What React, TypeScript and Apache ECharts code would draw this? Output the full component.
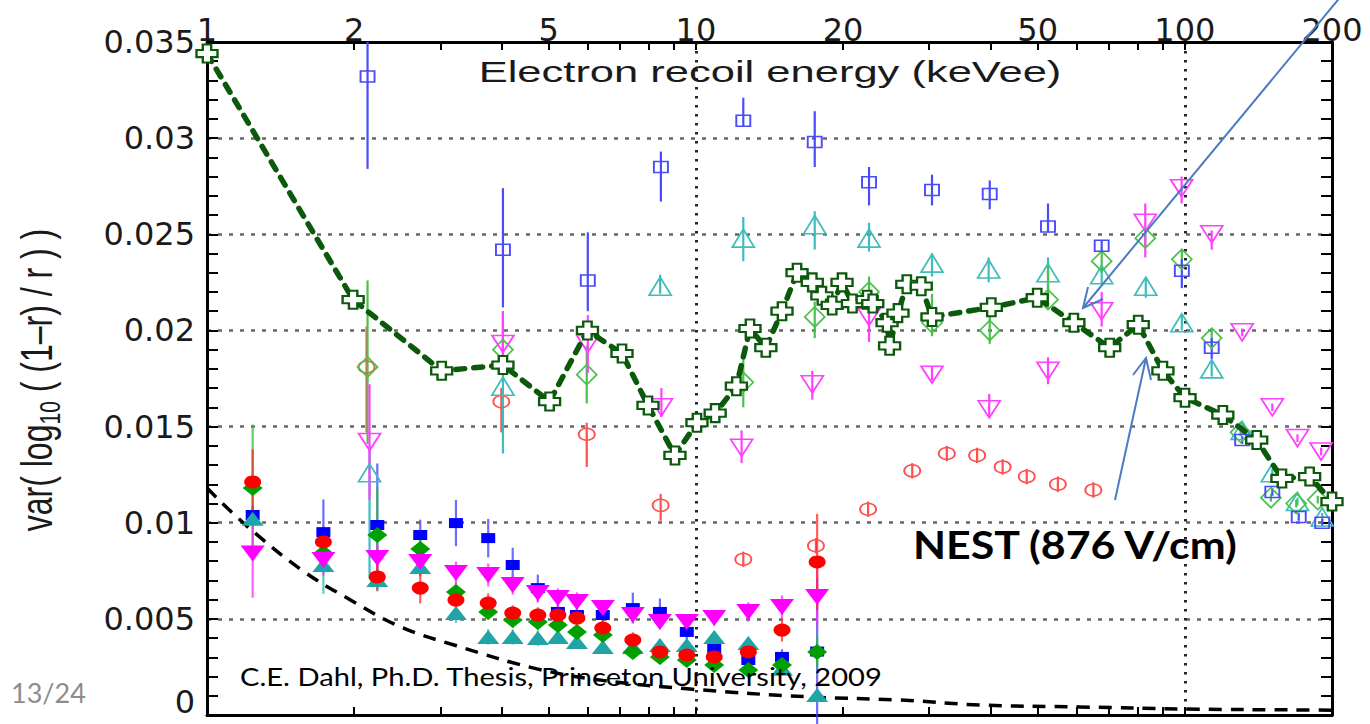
import React, { useEffect, useRef } from "react";
import * as echarts from "echarts";

// ---------- axes ----------
const X_MIN = 1;
const X_MAX = 200;
const Y_MIN = 0;
const Y_MAX = 0.035;
const Y_STEP = 0.005;
const xLabelValues = [1, 2, 5, 10, 20, 50, 100, 200];
const xTickValues = [2, 3, 4, 5, 6, 7, 8, 9, 10, 20, 30, 40, 50, 60, 70, 80, 90, 100, 200];

// ---------- low-energy data set (filled markers) ----------
const lowE = [1.24, 1.73, 2.23, 2.73, 3.23, 3.76, 4.22, 4.75, 5.22, 5.71, 6.45, 7.43, 8.44, 9.58, 10.9, 12.8, 15.0, 17.7];
const blueFilled = [0.0104, 0.00951, 0.00988, 0.00936, 0.00998, 0.0092, 0.0078, 0.0066, 0.00536, 0.0052, 0.0052, 0.00556, 0.00536, 0.00432, 0.00348, 0.00286, 0.00302, 0.0033];
const blueFilledErr = [0.0005, 0.0017, 0.0032, 0.0008, 0.0012, 0.001, 0.0009, 0.0007, 0.0006, 0.0005, 0.0006, 0.0008, 0.0007, 0.0004, 0.0004, 0.0004, 0.0004, 0.0038];
const cyanFilled = [0.0102, 0.0078, 0.00702, 0.0077, 0.0053, 0.00406, 0.00406, 0.004, 0.00406, 0.0038, 0.00354, 0.00354, 0.00364, 0.00364, 0.00406, 0.00374, 0.0024, 0.00104];
const cyanFilledErr = [0.0004, 0.0015, 0.0006, 0.0005, 0.0005, 0.0004, 0.0004, 0.0004, 0.0003, 0.0003, 0.0003, 0.0003, 0.0003, 0.0003, 0.0003, 0.0003, 0.0003, 0.0003];
const greenFilled = [0.0118, 0.00842, 0.00936, 0.00863, 0.0064, 0.00536, 0.00494, 0.00484, 0.00468, 0.00432, 0.00416, 0.00328, 0.00302, 0.00286, 0.0026, 0.00234, 0.0026, 0.00328];
const greenFilledErr = [0.0033, 0.0006, 0.0025, 0.0006, 0.0005, 0.0004, 0.0004, 0.0004, 0.0004, 0.0004, 0.0004, 0.0003, 0.0003, 0.0003, 0.0003, 0.0003, 0.0003, 0.0008];
const magentaFilled = [0.0084, 0.00806, 0.00816, 0.00796, 0.00738, 0.00728, 0.00676, 0.00634, 0.00608, 0.00588, 0.00556, 0.0052, 0.00484, 0.00484, 0.00504, 0.00536, 0.00562, 0.00614];
const magentaFilledErr = [0.0023, 0.0008, 0.0007, 0.0007, 0.0006, 0.0006, 0.0005, 0.0005, 0.0005, 0.0005, 0.0004, 0.0004, 0.0004, 0.0004, 0.0004, 0.0005, 0.0006, 0.0015];
const redFilled = [0.01212, 0.009, 0.00718, 0.0066, 0.00598, 0.00582, 0.0053, 0.0052, 0.0052, 0.00504, 0.00452, 0.0039, 0.00328, 0.00312, 0.00302, 0.00328, 0.00442, 0.00796];
const redFilledErr = [0.0017, 0.0008, 0.0007, 0.0008, 0.0006, 0.0005, 0.0004, 0.0004, 0.0004, 0.0004, 0.0004, 0.0004, 0.0003, 0.0003, 0.0003, 0.0004, 0.0006, 0.0025];

// ---------- high-energy data set (open markers): [E, value, errDown, errUp] ----------
const openBlue = [
  [2.13, 0.0332, 0.0048, 0.0018], [4.03, 0.0242, 0.003, 0.0032], [6.01, 0.0226, 0.0016, 0.0025],
  [8.48, 0.0285, 0.0018, 0.0008], [12.5, 0.0309, 0.0003, 0.0012], [17.5, 0.0298, 0.0013, 0.0016],
  [22.6, 0.0277, 0.0012, 0.0008], [30.4, 0.0273, 0.0008, 0.0008], [39.9, 0.0271, 0.0008, 0.0007],
  [52.5, 0.0254, 0.0003, 0.0012], [67.6, 0.0244, 0.0003, 0.0003], [98.6, 0.0231, 0.0009, 0.0006],
  [113.5, 0.0191, 0.0006, 0.0005], [131, 0.0143, 0.0002, 0.0002], [151, 0.0116, 0.0002, 0.0002],
  [171, 0.0103, 0.0002, 0.0002], [191, 0.01, 0.0002, 0.0002],
];
const openCyan = [
  [2.15, 0.0126, 0.0055, 0.0014], [4.03, 0.0171, 0.0035, 0.003], [8.45, 0.0223, 0.0004, 0.0006],
  [12.5, 0.0248, 0.0012, 0.0011], [17.5, 0.0255, 0.0013, 0.0007], [22.6, 0.0248, 0.0007, 0.0008],
  [30.4, 0.0235, 0.0007, 0.0005], [39.7, 0.0232, 0.0007, 0.0006], [52.5, 0.023, 0.001, 0.0008],
  [67.6, 0.0229, 0.0005, 0.0005], [83.2, 0.0223, 0.0006, 0.0004], [98.6, 0.0204, 0.0004, 0.0004],
  [113.5, 0.018, 0.0004, 0.0004], [131, 0.0148, 0.0002, 0.0002], [151, 0.0126, 0.0002, 0.0002],
  [170, 0.0111, 0.0002, 0.0002], [191, 0.0103, 0.0002, 0.0002],
];
const openGreen = [
  [2.13, 0.0181, 0.004, 0.0045], [4.03, 0.019, 0.0012, 0.002], [5.98, 0.0177, 0.0015, 0.0015],
  [12.5, 0.0173, 0.0013, 0.0012], [17.5, 0.0207, 0.0011, 0.0008], [22.6, 0.022, 0.0008, 0.0008],
  [30.4, 0.0204, 0.0007, 0.0015], [39.9, 0.02, 0.0007, 0.0007], [52.5, 0.0216, 0.0005, 0.0019],
  [67.6, 0.0236, 0.0006, 0.0006], [83, 0.0248, 0.0004, 0.0004], [98.6, 0.0237, 0.0005, 0.0005],
  [113.5, 0.0196, 0.0005, 0.0005], [130, 0.0147, 0.0002, 0.0002], [150, 0.0113, 0.0002, 0.0002],
  [169, 0.011, 0.0002, 0.0002], [187, 0.0112, 0.0002, 0.0002],
];
const openMagenta = [
  [2.15, 0.0142, 0.003, 0.003], [4.03, 0.0193, 0.0017, 0.0017], [6.01, 0.0193, 0.0015, 0.0015],
  [8.5, 0.016, 0.0005, 0.001], [12.4, 0.0139, 0.0008, 0.0009], [17.3, 0.0172, 0.0008, 0.0007],
  [22.6, 0.0207, 0.0013, 0.0008], [30.4, 0.0177, 0.0003, 0.0004], [39.8, 0.0159, 0.0004, 0.0008],
  [52.5, 0.0179, 0.0007, 0.0007], [67.6, 0.021, 0.0008, 0.001], [83, 0.0256, 0.0018, 0.001],
  [98.5, 0.0274, 0.0008, 0.0006], [113.5, 0.025, 0.0008, 0.0002], [131, 0.0199, 0.0002, 0.0002],
  [151, 0.016, 0.0002, 0.0002], [170, 0.0144, 0.0002, 0.0002], [190, 0.0137, 0.0002, 0.0002],
];
const openRed = [
  [2.12, 0.0181, 0.0034, 0.0021], [4.0, 0.0163, 0.0016, 0.0007], [5.98, 0.0146, 0.0017, 0.0006],
  [8.47, 0.0109, 0.0008, 0.0006], [12.5, 0.0081, 0.0004, 0.0004], [17.6, 0.0088, 0.0004, 0.0004],
  [22.5, 0.0107, 0.0004, 0.0004], [27.7, 0.0127, 0.0004, 0.0004], [32.6, 0.0136, 0.0004, 0.0004],
  [37.6, 0.0135, 0.0004, 0.0004], [42.4, 0.0129, 0.0004, 0.0004], [47.5, 0.0124, 0.0004, 0.0004],
  [55, 0.012, 0.0004, 0.0004], [65, 0.0117, 0.0004, 0.0004],
];

// ---------- NEST (876 V/cm) ----------
const nest = [
  [1.0, 0.0344], [1.99, 0.0216], [3.02, 0.0179], [4.03, 0.0182], [5.02, 0.0163], [6.0, 0.02],
  [7.06, 0.0188], [7.98, 0.0161], [9.06, 0.0135], [10.05, 0.0152], [10.95, 0.0157], [12.1, 0.0171],
  [12.9, 0.0201], [13.9, 0.0191], [15.0, 0.021], [16.1, 0.023], [17.3, 0.0225], [18.1, 0.0218],
  [19.0, 0.0213], [19.9, 0.0225], [20.9, 0.0214], [22.4, 0.0216], [23.0, 0.0214], [24.6, 0.0204],
  [24.9, 0.0192], [25.9, 0.0209], [27.0, 0.0224], [28.9, 0.0223], [30.4, 0.0207], [40.2, 0.0212],
  [49.9, 0.0217], [59.3, 0.0204], [70.2, 0.0191], [80.3, 0.0203], [90.2, 0.0179], [100.1, 0.0165],
  [119.6, 0.0156], [140.3, 0.0143], [158, 0.0123], [180, 0.0124], [200, 0.0111],
];

// ---------- lower black dashed curve ----------
const lowerCurve = [
  [1.0, 0.0118], [1.21, 0.0098], [1.57, 0.0075], [1.93, 0.0061], [2.48, 0.0046], [3.24, 0.0036],
  [4.73, 0.0024], [6.45, 0.0018], [9.72, 0.00135], [17.1, 0.00094], [26.1, 0.00078], [38.1, 0.00052],
  [60.9, 0.00042], [100.9, 0.00031], [177, 0.00026], [200, 0.00025],
];

const AXIS_FONT = "DejaVu Sans";
const TXT = "#1a1a1a";

function errorBars(rows: number[][], color: string, z: number) {
  return {
    type: "custom",
    xAxisIndex: 0,
    yAxisIndex: 0,
    silent: true,
    z,
    data: rows,
    encode: { x: 0, y: [1, 2] },
    renderItem: (_p: any, api: any) => {
      const e = api.value(0);
      const a = api.coord([e, api.value(1)]);
      const b = api.coord([e, api.value(2)]);
      return {
        type: "line",
        shape: { x1: a[0], y1: a[1], x2: b[0], y2: b[1] },
        style: { stroke: color, lineWidth: 2.2 },
      };
    },
  };
}

function markers(pts: number[][], symbol: string, size: number[], color: string, filled: boolean, z: number, rotate = 0) {
  return {
    type: "scatter",
    xAxisIndex: 0,
    yAxisIndex: 0,
    silent: true,
    z,
    data: pts,
    symbol,
    symbolSize: size,
    symbolRotate: rotate,
    itemStyle: filled
      ? { color, opacity: 1 }
      : { color: "rgba(255,255,255,0)", borderColor: color, borderWidth: 1.7, opacity: 1 },
  };
}

function filledSet(vals: number[], errs: number[], symbol: string, size: number[], color: string, barColor: string, rotate = 0) {
  const pts = lowE.map((e, i) => [e, vals[i]]);
  const bars = lowE.map((e, i) => [e, vals[i] - errs[i], vals[i] + errs[i]]);
  return [errorBars(bars, barColor, 2), markers(pts, symbol, size, color, true, 6, rotate)];
}

function openSet(rows: number[][], symbol: string, size: number[], color: string, rotate = 0) {
  const pts = rows.map((r) => [r[0], r[1]]);
  const bars = rows.map((r) => [r[0], r[1] - r[2], r[1] + r[3]]);
  return [errorBars(bars, color, 2), markers(pts, symbol, size, color, false, 3, rotate)];
}

const PLUS = "path://M3,0H7V3H10V7H7V10H3V7H0V3H3Z";

export default function App() {
  const ref = useRef<HTMLDivElement>(null);

  useEffect(() => {
    if (!ref.current) return;
    const chart = echarts.init(ref.current, undefined, { renderer: "svg" });
    const tickLine = { color: "#000", width: 2 };
    const frameLine = { color: "#000", width: 3 };
    const blueArrow = "#4a7cc0";

    const option: any = {
      animation: false,
      backgroundColor: "#ffffff",
      grid: { left: 207, right: 38, top: 42, bottom: 9 },
      xAxis: [
        {
          type: "log",
          logBase: 10,
          min: X_MIN,
          max: X_MAX,
          position: "top",
          axisLine: { show: true, onZero: false, lineStyle: frameLine },
          axisTick: { show: false },
          axisLabel: { show: false },
          splitLine: { show: true, lineStyle: { color: "#262626", width: 3, type: [2.5, 6.5] } },
        },
        {
          type: "value",
          min: Math.log10(X_MIN),
          max: Math.log10(X_MAX),
          position: "top",
          axisLine: { show: false, onZero: false },
          axisTick: { show: true, inside: true, length: 8, customValues: xTickValues.map(Math.log10), lineStyle: tickLine },
          axisLabel: {
            show: true,
            customValues: xLabelValues.map(Math.log10),
            formatter: (v: number) => String(Math.round(Math.pow(10, v))),
            fontFamily: AXIS_FONT,
            fontSize: 32,
            color: TXT,
            margin: -4,
          },
          splitLine: { show: false },
        },
        {
          type: "value",
          min: Math.log10(X_MIN),
          max: Math.log10(X_MAX),
          position: "bottom",
          axisLine: { show: true, onZero: false, lineStyle: frameLine },
          axisTick: { show: true, inside: true, length: 8, customValues: xTickValues.map(Math.log10), lineStyle: tickLine },
          axisLabel: { show: false },
          splitLine: { show: false },
        },
      ],
      yAxis: [
        {
          type: "value",
          min: Y_MIN,
          max: Y_MAX,
          interval: Y_STEP,
          position: "left",
          axisLine: { show: true, onZero: false, lineStyle: frameLine },
          axisTick: { show: true, inside: true, length: 11, lineStyle: tickLine },
          minorTick: { show: true, splitNumber: 5, length: 11, lineStyle: tickLine },
          axisLabel: {
            formatter: (v: number) => (v === 0 ? "{z|0}" : String(Number(v.toFixed(3)))),
            fontFamily: AXIS_FONT,
            fontSize: 32,
            color: TXT,
            margin: 12,
            rich: { z: { fontFamily: AXIS_FONT, fontSize: 32, color: TXT, padding: [0, 0, 26, 0] } },
          },
          splitLine: { show: true, lineStyle: { color: "#666666", width: 2.5, type: [4, 7] } },
        },
        {
          type: "value",
          min: Y_MIN,
          max: Y_MAX,
          interval: Y_STEP,
          position: "right",
          axisLine: { show: true, onZero: false, lineStyle: frameLine },
          axisTick: { show: true, inside: true, length: 11, lineStyle: tickLine },
          minorTick: { show: true, splitNumber: 5, length: 11, lineStyle: tickLine },
          axisLabel: { show: false },
          splitLine: { show: false },
        },
      ],
      series: [
        {
          type: "line",
          xAxisIndex: 0,
          yAxisIndex: 0,
          silent: true,
          z: 2,
          data: lowerCurve,
          smooth: 0.4,
          showSymbol: false,
          lineStyle: { color: "#000", width: 3.5, type: [13, 9] },
        },
        ...openSet(openRed, "circle", [16, 12], "#ff5050"),
        ...openSet(openCyan, "triangle", [22, 18], "#3fbcbc"),
        ...openSet(openGreen, "diamond", [20, 20], "#4cc04c"),
        ...openSet(openMagenta, "triangle", [22, 17], "#ff40ff", 180),
        ...openSet(openBlue, "rect", [14, 11], "#4a4aff"),
        {
          type: "line",
          xAxisIndex: 0,
          yAxisIndex: 0,
          silent: true,
          z: 4,
          data: nest,
          showSymbol: true,
          symbol: PLUS,
          symbolSize: [21, 18],
          itemStyle: { color: "#ffffff", borderColor: "#0b5a0b", borderWidth: 2.2 },
          lineStyle: { color: "#0b5a0b", width: 5.5, type: [9, 9], cap: "round" },
        },
        ...filledSet(blueFilled, blueFilledErr, "rect", [14, 10], "#0000ff", "rgba(60,60,255,0.75)"),
        ...filledSet(cyanFilled, cyanFilledErr, "triangle", [22, 14], "#1fa5a5", "rgba(40,180,180,0.75)"),
        ...filledSet(greenFilled, greenFilledErr, "diamond", [20, 16], "#00a000", "rgba(40,190,40,0.75)"),
        ...filledSet(magentaFilled, magentaFilledErr, "triangle", [24, 16], "#ff00ff", "rgba(255,40,255,0.75)", 180),
        ...filledSet(redFilled, redFilledErr, "circle", [17, 13], "#ff0000", "rgba(255,40,40,0.75)"),
      ],
      graphic: [
        {
          type: "text",
          z: 100,
          x: 770,
          y: 72,
          scaleX: 1.45,
          style: { text: "Electron recoil energy (keVee)", fontFamily: "Liberation Sans", fontSize: 30, fill: TXT, align: "center", verticalAlign: "middle" },
        },
        {
          type: "text",
          z: 100,
          x: 36,
          y: 380,
          rotation: Math.PI / 2,
          scaleY: 1.4,
          style: {
            text: "{a|var( log}{b|10}{a| ( (1–r) / r ) )}",
            align: "center",
            verticalAlign: "middle",
            rich: {
              a: { fontFamily: "Liberation Sans", fontSize: 32, fill: TXT, lineHeight: 40 },
              b: { fontFamily: "Liberation Sans", fontSize: 21, fill: TXT, lineHeight: 20, verticalAlign: "bottom" },
            },
          },
        },
        {
          type: "text",
          z: 100,
          x: 913,
          y: 544,
          scaleX: 1.1,
          style: { text: "NEST (876 V/cm)", fontFamily: "Lato", fontWeight: "bold", fontSize: 39, fill: "#000", align: "left", verticalAlign: "middle" },
        },
        {
          type: "text",
          z: 100,
          x: 240,
          y: 676,
          scaleX: 1.12,
          style: { text: "C.E. Dahl, Ph.D. Thesis, Princeton University, 2009", fontFamily: "Lato", fontSize: 26, fill: "#000", align: "left", verticalAlign: "middle" },
        },
        {
          type: "text",
          z: 100,
          x: 11,
          y: 692,
          style: { text: "13/24", fontFamily: "Lato", fontSize: 27, fill: "#8c8c8c", align: "left", verticalAlign: "middle" },
        },
        { type: "line", z: 100, shape: { x1: 1342, y1: -5, x2: 1083, y2: 308 }, style: { stroke: blueArrow, lineWidth: 2 } },
        { type: "polyline", z: 100, shape: { points: [[1103, 299], [1083, 308], [1088, 287]] }, style: { stroke: blueArrow, lineWidth: 2, fill: null } },
        { type: "line", z: 100, shape: { x1: 1115, y1: 500, x2: 1146, y2: 358 }, style: { stroke: blueArrow, lineWidth: 2 } },
        { type: "polyline", z: 100, shape: { points: [[1133, 375], [1146, 358], [1151, 380]] }, style: { stroke: blueArrow, lineWidth: 2, fill: null } },
      ],
    };

    chart.setOption(option);
    return () => chart.dispose();
  }, []);

  return <div ref={ref} style={{ position: "absolute", left: 0, top: 0, width: 1370, height: 724 }} />;
}
